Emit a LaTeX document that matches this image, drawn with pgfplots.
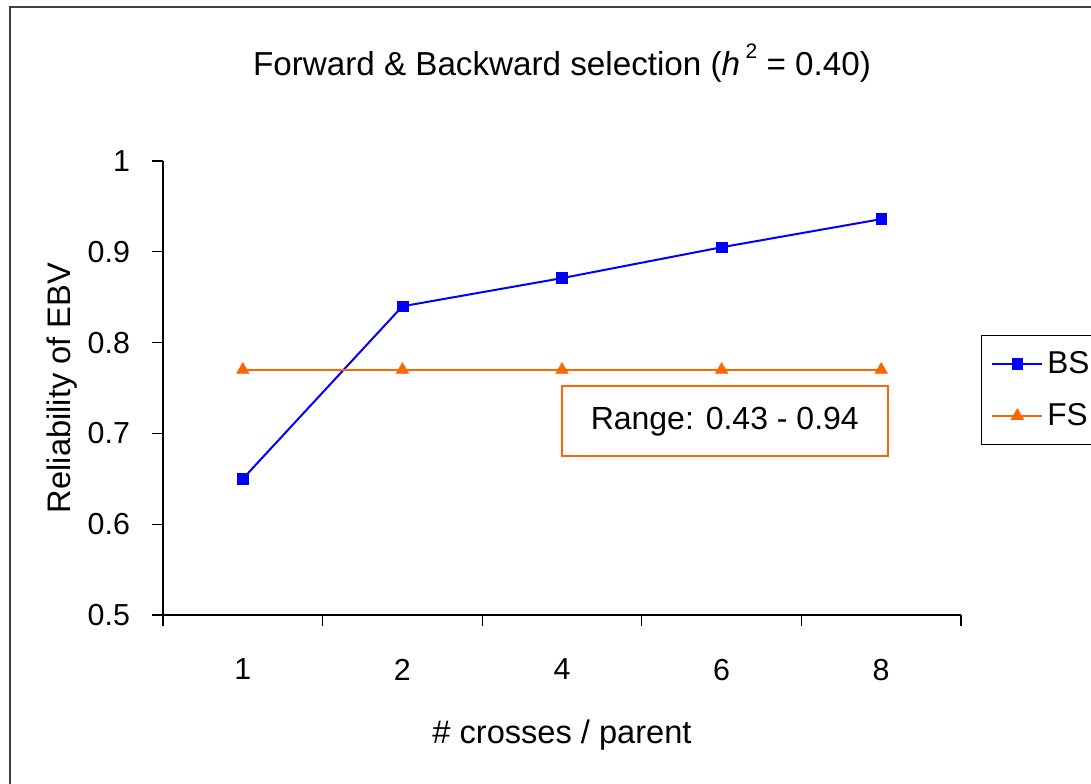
\documentclass[border=0pt]{standalone}
\usepackage{fontspec}
\setmainfont{Liberation Sans}
\usepackage{pgfplots}
\pgfplotsset{compat=1.18}
\definecolor{bsblue}{RGB}{0,0,255}
\definecolor{fsorange}{RGB}{255,102,0}
\newcommand\cf{\fontsize{16.3pt}{19pt}\selectfont}
\newcommand\tf{\fontsize{15.2pt}{18pt}\selectfont}

\begin{document}
\begin{tikzpicture}
\useasboundingbox (0,0) rectangle (545.5pt,391.5pt);
\clip (0,0) rectangle (545.5pt,391.5pt);
% outer chart frame (runs off the right and bottom edges)
\draw[line width=1pt, black!75] (5pt,388.2pt) rectangle (600pt,-20pt);
\begin{axis}[
  at={(81.5pt,84pt)}, anchor=south west,
  scale only axis, width=399pt, height=227pt,
  xmin=-0.5, xmax=4.5, ymin=0.5, ymax=1,
  axis x line*=bottom, axis y line*=left,
  axis line style={line width=0.6pt},
  tick align=outside, major tick length=5.5pt,
  tick style={black, line width=0.6pt},
  xtick={-0.5,0.5,1.5,2.5,3.5,4.5}, xticklabels={,,,,,},
  extra x ticks={0,1,2,3,4},
  extra x tick labels={1,2,4,6,8},
  extra x tick style={major tick length=0pt},
  xticklabel style={yshift=-18.5pt},
  ytick={0.5,0.6,0.7,0.8,0.9,1},
  yticklabels={0.5,0.6,0.7,0.8,0.9,1},
  yticklabel style={xshift=-7.5pt},
  tick label style={font=\tf},
  /pgf/number format/assume math mode=true,
  every axis title shift=0pt,
  title={Forward \& Backward selection (\textit{h}\,\raisebox{8.5pt}{\fontsize{10.5pt}{11pt}\selectfont 2} = 0.40)},
  title style={at={(axis description cs:0.5,1.216)}, anchor=center,
    font=\fontsize{16.6pt}{19pt}\selectfont},
  xlabel={\# crosses / parent},
  xlabel style={at={(axis description cs:0.5,-0.264)}, anchor=center, font=\cf},
  ylabel={Reliability of EBV},
  ylabel style={at={(axis description cs:-0.1266,0.5)}, anchor=center, font=\cf},
  legend style={at={(axis description cs:1.025,0.617)}, anchor=north west,
    draw=black, font=\fontsize{15.8pt}{18pt}\selectfont, row sep=9.5pt,
    inner xsep=5pt, inner ysep=6pt, cells={anchor=west}},
  legend image code/.code={\draw[mark repeat=2,mark phase=2]
    plot coordinates {(0pt,0pt)(12.5pt,0pt)(25pt,0pt)};},
  clip=false,
]
\addplot[color=bsblue, line width=1pt, mark=square*, mark size=2.7pt,
  mark options={solid, line width=0.3pt}]
  coordinates {(0,0.65) (1,0.84) (2,0.871) (3,0.905) (4,0.936)};
\addlegendentry{BS}
\addplot[color=fsorange, line width=1pt, mark=triangle*, mark size=3.6pt,
  mark options={solid, line width=0.3pt}]
  coordinates {(0,0.77) (1,0.77) (2,0.77) (3,0.77) (4,0.77)};
\addlegendentry{FS}
\node[draw=fsorange, line width=1pt, minimum width=163pt, minimum height=35pt,
  font=\fontsize{16pt}{19pt}\selectfont, fill=white]
  at (axis description cs:0.704,0.427) {Range: 0.43 - 0.94};
\end{axis}
\end{tikzpicture}
\end{document}
